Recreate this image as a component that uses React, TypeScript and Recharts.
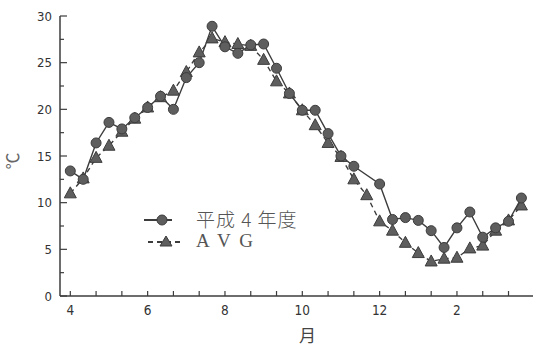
import React from 'react';
import { LineChart, Line, XAxis, YAxis, Label } from 'recharts';

// 旬別平均気温（4月上旬〜3月下旬、36旬）
const heisei4 = [
  13.4, 12.5, 16.4, 18.6, 17.9, 19.1, 20.2, 21.4, 20.0, 23.4, 25.0, 28.9,
  26.7, 26.0, 26.9, 27.0, 24.4, 21.7, 19.9, 19.9, 17.4, 15.0, 13.9, null,
  12.0, 8.2, 8.4, 8.1, 7.0, 5.2, 7.3, 9.0, 6.3, 7.3, 8.0, 10.5,
];
const avg = [
  11.0, 12.6, 14.8, 16.1, 17.6, 19.0, 20.2, 21.3, 22.0, 24.0, 26.1, 27.6,
  27.2, 27.0, 26.8, 25.3, 23.0, 21.7, 19.9, 18.3, 16.4, 14.9, 12.5, 10.8,
  8.0, 7.0, 5.7, 4.6, 3.7, 4.0, 4.1, 5.1, 5.4, 7.0, 8.1, 9.7,
];
const monthLabels = ['4', '6', '8', '10', '12', '2'];
const xTicks = [0, 2, 4, 6, 8, 10, 12, 14, 16, 18, 20, 22, 24, 26, 28, 30, 32, 34];
const yTicks = [0, 2.5, 5, 7.5, 10, 12.5, 15, 17.5, 20, 22.5, 25, 27.5, 30];

const data = avg.map((v, i) => ({ x: i, heisei4: heisei4[i], avg: v }));

const INK = '#3c3c3c';
const MARK = '#5e5e5e';
const tickFont = "'Liberation Sans Narrow', 'DejaVu Sans Condensed', sans-serif";
const Y_MARGIN = 8;
const X_MARGIN = 9;

const YTick = (props: any) => {
  const { x, y, payload } = props;
  const major = payload.value % 5 === 0;
  const ax = x + Y_MARGIN;
  return (
    <g>
      <line x1={ax} x2={ax + (major ? 7 : 4)} y1={y} y2={y} stroke={INK} strokeWidth={1.2} />
      {major && (
        <text x={x} y={y} dy="0.35em" textAnchor="end" fontSize={13} fontFamily={tickFont} fill="#333">
          {payload.value}
        </text>
      )}
    </g>
  );
};

const XTick = (props: any) => {
  const { x, y, payload } = props;
  const ay = y - X_MARGIN;
  const label = payload.value % 6 === 0 ? monthLabels[payload.value / 6] : null;
  return (
    <g>
      <line x1={x} x2={x} y1={ay} y2={ay - 5} stroke={INK} strokeWidth={1.2} />
      {label && (
        <text x={x} y={y} dy="0.75em" textAnchor="middle" fontSize={13.5} fontFamily={tickFont} fill="#333">
          {label}
        </text>
      )}
    </g>
  );
};

const TriangleDot = (props: any) => {
  const { cx, cy, index } = props;
  if (cx == null || cy == null) return <g key={`t${index}`} />;
  return (
    <polygon
      key={`t${index}`}
      points={`${cx},${cy - 6.5} ${cx + 6},${cy + 4.5} ${cx - 6},${cy + 4.5}`}
      fill={MARK}
      stroke={INK}
      strokeWidth={1}
    />
  );
};

// 凡例（プロット領域を縮めないようチャートの外に重ねる）
const LegendBox = () => (
  <div style={{ position: 'absolute', left: 140, top: 208, color: '#555', fontFamily: "'Liberation Serif', 'Noto Sans CJK JP', serif" }}>
    <div style={{ display: 'flex', alignItems: 'center', height: 22 }}>
      <svg width={56} height={20}>
        <line x1={4} x2={32} y1={11} y2={11} stroke={INK} strokeWidth={2} />
        <circle cx={22} cy={11} r={5} fill={MARK} stroke={INK} />
      </svg>
      <span style={{ fontSize: 19, fontFamily: "'Noto Sans CJK JP', sans-serif", fontWeight: 300, letterSpacing: 1, lineHeight: '22px' }}>
        平成 4 年度
      </span>
    </div>
    <div style={{ display: 'flex', alignItems: 'center', height: 22 }}>
      <svg width={56} height={20}>
        <line x1={8} x2={42} y1={11} y2={11} stroke={INK} strokeWidth={2} strokeDasharray="5 4" />
        <polygon points="26,5 32,15 20,15" fill={MARK} stroke={INK} />
      </svg>
      <span style={{ fontSize: 19, letterSpacing: 2, lineHeight: '22px' }}>A V G</span>
    </div>
  </div>
);

export default function App() {
  return (
    <div style={{ position: 'absolute', left: 0, top: 0, width: 535, height: 347, background: '#fff' }}>
      <LineChart width={535} height={347} data={data} margin={{ top: 16, right: 2, bottom: 9, left: 0 }}>
        <XAxis
          dataKey="x"
          type="number"
          domain={[-0.8, 35.9]}
          ticks={xTicks}
          interval={0}
          tick={<XTick />}
          tickSize={0}
          tickMargin={X_MARGIN}
          height={42}
          axisLine={{ stroke: INK, strokeWidth: 1.5 }}
          tickLine={false}
        >
          <Label value="月" position="insideBottom" offset={-4} dx={11} fontSize={17} fill="#444" fontFamily="'Noto Sans CJK JP', sans-serif" />
        </XAxis>
        <YAxis
          type="number"
          domain={[0, 30]}
          ticks={yTicks}
          interval={0}
          tick={<YTick />}
          tickSize={0}
          tickMargin={Y_MARGIN}
          width={60}
          axisLine={{ stroke: INK, strokeWidth: 1.5 }}
          tickLine={false}
        >
          <Label value="℃" angle={-90} position="center" dx={-17} dy={5} fontSize={17} fill="#666" fontFamily="'Liberation Serif', 'Noto Sans CJK JP', serif" />
        </YAxis>
        <Line
          type="linear"
          dataKey="avg"
          stroke={INK}
          strokeWidth={1.4}
          strokeDasharray="5 4"
          dot={<TriangleDot />}
          isAnimationActive={false}
        />
        <Line
          type="linear"
          dataKey="heisei4"
          stroke={INK}
          strokeWidth={1.4}
          connectNulls
          dot={{ r: 5, fill: MARK, stroke: INK, strokeWidth: 1 }}
          isAnimationActive={false}
        />
      </LineChart>
      <LegendBox />
    </div>
  );
}
